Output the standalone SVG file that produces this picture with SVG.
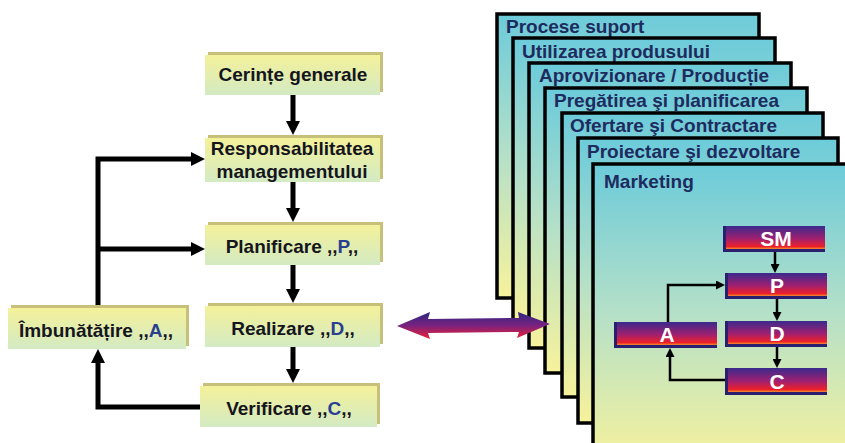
<svg xmlns="http://www.w3.org/2000/svg" width="845" height="443" viewBox="0 0 845 443">
<defs>
  <linearGradient id="gPanel" x1="0" y1="0" x2="0" y2="1">
    <stop offset="0" stop-color="#6ccbda"/>
    <stop offset="0.5" stop-color="#b5e0c8"/>
    <stop offset="1" stop-color="#f7f29c"/>
  </linearGradient>
  <linearGradient id="gBox" x1="0" y1="0" x2="0" y2="1">
    <stop offset="0" stop-color="#f4f19a"/>
    <stop offset="1" stop-color="#d3eac3"/>
  </linearGradient>
  <linearGradient id="gRed" x1="0" y1="0" x2="0" y2="1">
    <stop offset="0" stop-color="#3a2a8c"/>
    <stop offset="0.55" stop-color="#a02070"/>
    <stop offset="0.9" stop-color="#ee2028"/>
    <stop offset="1" stop-color="#f39030"/>
  </linearGradient>
  <linearGradient id="gArrow" x1="0" y1="0" x2="0" y2="1">
    <stop offset="0" stop-color="#2a2880"/>
    <stop offset="0.5" stop-color="#7a2280"/>
    <stop offset="1" stop-color="#ee2030"/>
  </linearGradient>
  <marker id="mBig" markerUnits="userSpaceOnUse" markerWidth="14" markerHeight="14" viewBox="0 0 14 14" refX="4" refY="7" orient="auto">
    <path d="M0,0 L14,7 L0,14 z" fill="#000"/>
  </marker>
  <marker id="mSmall" markerUnits="userSpaceOnUse" markerWidth="9" markerHeight="9" viewBox="0 0 9 9" refX="3" refY="4.5" orient="auto">
    <path d="M0,0 L9,4.5 L0,9 z" fill="#000"/>
  </marker>
  <clipPath id="clipResp"><rect x="205" y="135" width="178" height="47"/></clipPath>
  <style>
    .panel { fill: url(#gPanel); stroke: #000; stroke-width: 3.5; }
    .ptxt { font-family: "Liberation Sans", Arial, sans-serif; font-weight: bold; font-size: 19px; fill: #1e2b5e; }
    .bevel { fill: #c7c07a; }
    .face { fill: url(#gBox); }
    .btxt { font-family: "Liberation Sans", Arial, sans-serif; font-weight: bold; font-size: 19px; fill: #151520; text-anchor: middle; }
    .blue { fill: #2a3f8f; }
    .rback { fill: #2a1f6e; }
    .rface { fill: url(#gRed); }
    .rtxt { font-family: "Liberation Sans", Arial, sans-serif; font-weight: bold; font-size: 21px; fill: #fff; text-anchor: middle; }
    .big { fill: none; stroke: #000; stroke-width: 5; marker-end: url(#mBig); }
    .small { fill: none; stroke: #000; stroke-width: 2.5; marker-end: url(#mSmall); }
  </style>
</defs>
<rect width="845" height="443" fill="#fff"/>

<!-- Right stacked panels -->
<g id="panel-procese"><rect class="panel" x="497" y="14" width="262" height="284"/><text class="ptxt" x="506" y="33">Procese suport</text></g>
<g id="panel-utilizarea"><rect class="panel" x="513" y="38" width="262" height="285"/><text class="ptxt" x="522" y="58">Utilizarea produsului</text></g>
<g id="panel-aprovizionare"><rect class="panel" x="529" y="63" width="262" height="285"/><text class="ptxt" x="539" y="82">Aprovizionare / Producție</text></g>
<g id="panel-pregatirea"><rect class="panel" x="545" y="88" width="262" height="285"/><text class="ptxt" x="554" y="107">Pregătirea şi planificarea</text></g>
<g id="panel-ofertare"><rect class="panel" x="562" y="113" width="261" height="284"/><text class="ptxt" x="570" y="132">Ofertare şi Contractare</text></g>
<g id="panel-proiectare"><rect class="panel" x="578" y="138" width="260" height="285"/><text class="ptxt" x="587" y="158">Proiectare şi dezvoltare</text></g>
<g id="panel-marketing"><rect class="panel" x="593" y="164" width="270" height="300"/><text class="ptxt" x="604" y="188">Marketing</text></g>

<!-- Inner PDCA boxes -->
<g id="r-sm"><rect class="rback" x="723" y="226" width="102" height="26"/><rect class="rface" x="726" y="226" width="99" height="23"/><text class="rtxt" x="776" y="246">SM</text></g>
<g id="r-p"><rect class="rback" x="725" y="273" width="102" height="26"/><rect class="rface" x="728" y="273" width="99" height="23"/><text class="rtxt" x="777" y="293">P</text></g>
<g id="r-d"><rect class="rback" x="725" y="321" width="102" height="26"/><rect class="rface" x="728" y="321" width="99" height="23"/><text class="rtxt" x="777" y="341">D</text></g>
<g id="r-c"><rect class="rback" x="725" y="368" width="102" height="27"/><rect class="rface" x="728" y="368" width="99" height="24"/><text class="rtxt" x="777" y="389">C</text></g>
<g id="r-a"><rect class="rback" x="614" y="322" width="103" height="26"/><rect class="rface" x="617" y="322" width="100" height="23"/><text class="rtxt" x="667" y="342">A</text></g>

<!-- Left boxes -->
<g id="n-cerinte"><rect class="bevel" x="208" y="52" width="175" height="40"/><rect class="face" x="205" y="55" width="175" height="40"/><text class="btxt" x="293" y="81">Cerințe generale</text></g>
<g id="n-resp"><rect class="bevel" x="208" y="135" width="175" height="44"/><rect class="face" x="205" y="138" width="175" height="44"/><g clip-path="url(#clipResp)"><text class="btxt" x="292" y="155">Responsabilitatea</text><text class="btxt" x="292" y="178">managementului</text></g></g>
<g id="n-plan"><rect class="bevel" x="208" y="222" width="175" height="40"/><rect class="face" x="205" y="225" width="175" height="40"/><text class="btxt" x="292" y="253">Planificare ,,<tspan class="blue">P</tspan>,,</text></g>
<g id="n-real"><rect class="bevel" x="208" y="303" width="175" height="41"/><rect class="face" x="205" y="306" width="175" height="41"/><text class="btxt" x="293" y="335">Realizare ,,<tspan class="blue">D</tspan>,,</text></g>
<g id="n-verif"><rect class="bevel" x="203" y="383" width="177" height="41"/><rect class="face" x="200" y="386" width="177" height="41"/><text class="btxt" x="289" y="415">Verificare ,,<tspan class="blue">C</tspan>,,</text></g>
<g id="n-imb"><rect class="bevel" x="11" y="305" width="178" height="41"/><rect class="face" x="8" y="308" width="178" height="41"/><text class="btxt" x="96" y="337">Îmbunătățire ,,<tspan class="blue">A</tspan>,,</text></g>

<!-- Connectors -->
<g id="connectors">
  <path class="big" d="M293,95 V125"/>
  <path class="big" d="M293,182 V212"/>
  <path class="big" d="M293,265 V293"/>
  <path class="big" d="M293,347 V373"/>
  <path class="big" d="M98,305 V159 H195"/>
  <path class="big" d="M96,249 H195"/>
  <path class="big" d="M200,407 H98 V359"/>
  <path class="small" d="M775,252 V267"/>
  <path class="small" d="M777,299 V315"/>
  <path class="small" d="M777,347 V362"/>
  <path class="small" d="M668,322 V285 H719"/>
  <path class="small" d="M725,380 H670 V354"/>
  <path d="M397,326 L430,312 L428,319 L519,318 L518,312 L550,324 L517,338 L519,332 L428,333 L430,339 z" fill="url(#gArrow)"/>
</g>
</svg>
